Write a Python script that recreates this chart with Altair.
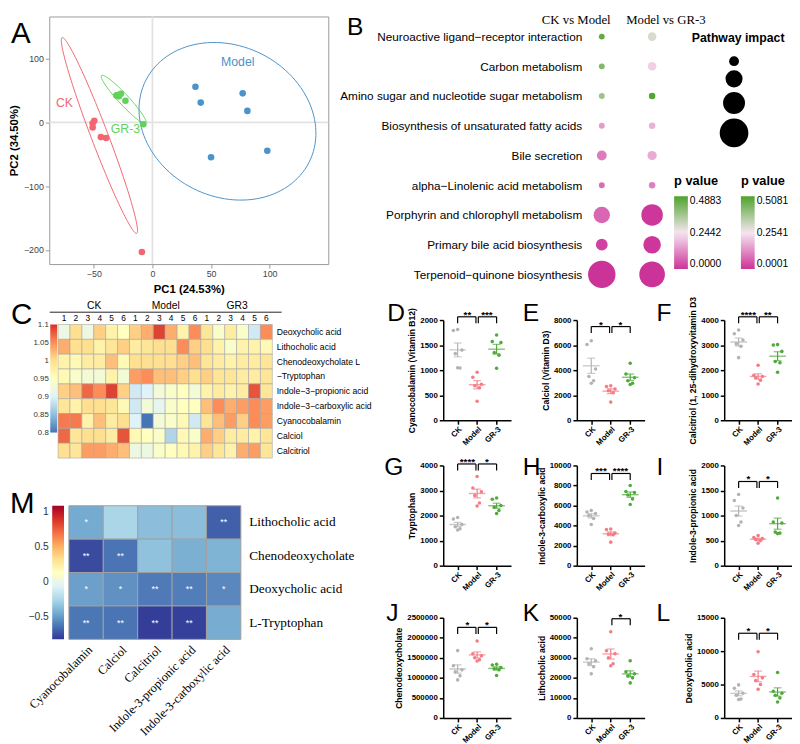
import numpy as np
import pandas as pd
import altair as alt

SANS = 'Liberation Sans'
SERIF = 'Liberation Serif'
IND = dict(color='independent', size='independent')

def letter(txt, x, y, size=25):
    return alt.Chart(pd.DataFrame({'t': [txt]})).mark_text(
        fontSize=size, align='left', baseline='alphabetic', color='black', font=SANS
    ).encode(x=alt.value(x), y=alt.value(y), text='t:N')

def colorbar(lo, hi, colors, ticks, px_lo, px_hi, x0, x1, fsize):
    stops = [alt.GradientStop(color=c, offset=i / (len(colors) - 1)) for i, c in enumerate(colors)]
    grad = alt.LinearGradient(gradient='linear', stops=stops, x1=0, x2=0, y1=1, y2=0)
    return alt.Chart(pd.DataFrame({'lo': [lo], 'hi': [hi]})).mark_rect(fill=grad).encode(
        x=alt.value(x0), x2=alt.value(x1),
        y=alt.Y('hi:Q', scale=alt.Scale(domain=[lo, hi], range=[px_lo, px_hi], nice=False, zero=False),
                axis=alt.Axis(orient='left', values=ticks, format='~g', ticks=False, domain=False, grid=False,
                              labelFontSize=fsize, labelColor='#333', labelPadding=1, title=None,
                              labelOverlap=False)),
        y2='lo:Q')

# ---------------- A : PCA ----------------
pca_group = ['CK'] * 6 + ['GR-3'] * 6 + ['Model'] * 6
pca_pc1 = [-49.6, -51.0, -51.0, -44.0, -39.5, -9.0,
           -30.8, -30.0, -28.6, -26.9, -23.0, -7.8,
           36.7, 41.2, 77.0, 81.0, 50.0, 98.0]
pca_pc2 = [2.5, -1.5, -8.0, -23.0, -24.5, -203.0,
           42.0, 43.0, 41.0, 45.0, 34.0, -3.0,
           56.0, 31.0, 45.5, 18.0, -54.5, -44.5]
ell_names = ['CK', 'GR-3', 'Model']
ell_cx = [-45.2, -24.5, 64.0]
ell_cy = [-20.5, 36.0, 1.75]
ell_ax = [31.8, 18.9, 67.9]
ell_ay = [-153.5, -37.5, -70.0]
ell_bx = [6.8, 3.3, -32.9]
ell_by = [4.5, 5.3, -101.75]
lab_names = ['CK', 'GR-3', 'Model']
lab_x = [-75.0, -23.0, 72.8]
lab_y = [31.0, -10.5, 94.5]

pca_df = pd.DataFrame({'PC1': pca_pc1, 'PC2': pca_pc2, 'Group': pca_group})
t = np.linspace(0, 2 * np.pi, 121)
ell_rows = []
for k, g in enumerate(ell_names):
    for j, tt in enumerate(t):
        ell_rows.append({'Group': g, 'ord': j,
                         'PC1': ell_cx[k] + ell_ax[k] * np.cos(tt) + ell_bx[k] * np.sin(tt),
                         'PC2': ell_cy[k] + ell_ay[k] * np.cos(tt) + ell_by[k] * np.sin(tt)})
ell_df = pd.DataFrame(ell_rows)
lab_df = pd.DataFrame({'PC1': lab_x, 'PC2': lab_y, 'Group': lab_names})

a_col = alt.Scale(domain=['CK', 'GR-3', 'Model'], range=['#F3666F', '#62D25A', '#4A93CB'])
a_xs = alt.Scale(domain=[-88, 150], nice=False, zero=False)
a_ys = alt.Scale(domain=[-222, 166], nice=False, zero=False)
a_xax = alt.Axis(values=[-50, 0, 50, 100], grid=False, domain=False, tickColor='#999', tickSize=4,
                 labelColor='#444', labelFontSize=9, title='PC1 (24.53%)', titleFontSize=11.5,
                 titleFontWeight='bold', titlePadding=5)
a_yax = alt.Axis(values=[-200, -100, 0, 100], grid=False, domain=False, tickColor='#999', tickSize=4,
                 labelColor='#444', labelFontSize=9, title='PC2 (34.50%)', titleFontSize=11.5,
                 titleFontWeight='bold', titlePadding=4)
AX = lambda: alt.X('PC1:Q', scale=a_xs, axis=a_xax)
AY = lambda: alt.Y('PC2:Q', scale=a_ys, axis=a_yax)
AC = lambda: alt.Color('Group:N', scale=a_col, legend=None)

a_zx = alt.Chart(pd.DataFrame({'PC1': [0]})).mark_rule(color='#E2E2E2', strokeWidth=1.8).encode(x=AX())
a_zy = alt.Chart(pd.DataFrame({'PC2': [0]})).mark_rule(color='#E2E2E2', strokeWidth=1.8).encode(y=AY())
a_ell = alt.Chart(ell_df).mark_line(strokeWidth=1).encode(x=AX(), y=AY(), color=AC(), detail='Group:N', order='ord:Q')
a_pts = alt.Chart(pca_df).mark_circle(size=45, opacity=1).encode(x=AX(), y=AY(), color=AC())
a_lab = alt.Chart(lab_df).mark_text(fontSize=12.5, font=SANS).encode(x=AX(), y=AY(), color=AC(), text='Group:N')
A = alt.layer(a_zx, a_zy, a_ell, a_pts, a_lab, letter('A', -39, 27, 30)).properties(
    width=284, height=252, view=alt.ViewBackground(stroke='#9A9A9A', strokeWidth=1))

# ---------------- B : pathway bubbles ----------------
b_pathways = ['Neuroactive ligand\u2212receptor interaction', 'Carbon metabolism',
              'Amino sugar and nucleotide sugar metabolism', 'Biosynthesis of unsaturated fatty acids',
              'Bile secretion', 'alpha\u2212Linolenic acid metabolism', 'Porphyrin and chlorophyll metabolism',
              'Primary bile acid biosynthesis', 'Terpenoid\u2212quinone biosynthesis']
b_comps = ['CK vs Model', 'Model vs GR-3']
b_ck_p = [0.46, 0.41, 0.37, 0.14, 0.10, 0.08, 0.07, 0.02, 0.0]
b_ck_impact = [0.036, 0.036, 0.036, 0.036, 0.10, 0.036, 0.28, 0.144, 0.78]
b_gr_p = [0.30, 0.22, 0.50, 0.18, 0.17, 0.11, 0.004, 0.005, 0.0001]
b_gr_impact = [0.076, 0.076, 0.044, 0.044, 0.088, 0.044, 0.48, 0.32, 0.68]
b_rows = []
for i, pw in enumerate(b_pathways):
    b_rows.append({'pathway': pw, 'comp': b_comps[0], 'p': b_ck_p[i], 'impact': b_ck_impact[i]})
    b_rows.append({'pathway': pw, 'comp': b_comps[1], 'p': b_gr_p[i], 'impact': b_gr_impact[i]})
b_df = pd.DataFrame(b_rows)

MAG, MID, GRN = '#CC3399', '#F6E6F0', '#4DA32C'
b_yax = alt.Axis(ticks=False, domain=False, labelFontSize=12, labelPadding=4, title=None, labelLimit=400,
                 labelColor='black')
BX = lambda: alt.X('comp:N', sort=b_comps, scale=alt.Scale(type='point', padding=0.32), axis=None)
BY = lambda: alt.Y('pathway:N', sort=b_pathways, scale=alt.Scale(type='point', padding=0.677), axis=b_yax)
size_leg = alt.Legend(title='Pathway impact', orient='none', legendX=108, legendY=16, values=[0.1, 0.3, 0.5, 0.85],
                      labelExpr="''", symbolFillColor='black', symbolStrokeColor='black', symbolOpacity=1,
                      symbolStrokeWidth=0, titleFontSize=12.5, titleFontWeight='bold', symbolOffset=28,
                      rowPadding=4, titlePadding=12)
BS = lambda: alt.Size('impact:Q', scale=alt.Scale(domain=[0, 1], range=[0, 1000]), legend=size_leg)

def p_leg(x, vals):
    return alt.Legend(title='p value', orient='none', legendX=x, legendY=162, values=vals, format='.4f',
                      gradientLength=74, gradientThickness=14, titleFontSize=13, titleFontWeight='bold',
                      labelFontSize=10.5, titlePadding=8, direction='vertical', labelColor='black')

b1 = alt.Chart(b_df).transform_filter(alt.datum.comp == b_comps[0]).mark_circle(opacity=1).encode(
    x=BX(), y=BY(), size=BS(),
    color=alt.Color('p:Q', scale=alt.Scale(domain=[0, 0.2442, 0.4883], range=[MAG, MID, GRN], interpolate='rgb'),
                    legend=p_leg(90, [0, 0.2442, 0.4883])))
b2 = alt.Chart(b_df).transform_filter(alt.datum.comp == b_comps[1]).mark_circle(opacity=1).encode(
    x=BX(), y=BY(), size=BS(),
    color=alt.Color('p:Q', scale=alt.Scale(domain=[0.0001, 0.2541, 0.5081], range=[MAG, MID, GRN], interpolate='rgb'),
                    legend=p_leg(158, [0.0001, 0.2541, 0.5081])))
hdr1 = alt.Chart(pd.DataFrame({'comp': [b_comps[0]]})).mark_text(
    font=SERIF, fontSize=13, dx=-26, baseline='middle', color='black').encode(x=BX(), y=alt.value(4), text='comp:N')
hdr2 = alt.Chart(pd.DataFrame({'comp': [b_comps[1]]})).mark_text(
    font=SERIF, fontSize=13, dx=14, baseline='middle', color='black').encode(x=BX(), y=alt.value(4), text='comp:N')
B = alt.layer(b1, b2, hdr1, hdr2, letter('B', -243, 19, 25)).resolve_scale(
    color='independent').properties(width=84, height=283)

# ---------------- C : heatmap ----------------
heat_groups = ['CK', 'Model', 'GR3']
heat_rows = ['Deoxycholic acid', 'Lithocholic acid', 'Chenodeoxycholate L', '\u2212Tryptophan',
             'Indole\u22123\u2212propionic acid', 'Indole\u22123\u2212carboxylic acid', 'Cyanocobalamin',
             'Calciol', 'Calcitriol']
heat_vals = [
    [0.92, 1.00, 0.92, 1.01, 0.97, 0.95, 1.01, 1.03, 1.09, 1.03, 0.97, 1.05, 0.99, 0.94, 0.98, 0.94, 0.89, 1.05],
    [1.03, 1.00, 1.00, 0.97, 0.99, 1.01, 0.98, 0.99, 1.00, 1.00, 1.05, 1.01, 1.00, 0.97, 0.94, 0.97, 0.97, 0.96],
    [0.97, 0.96, 0.98, 0.98, 1.02, 0.96, 1.00, 1.00, 1.00, 1.00, 1.01, 1.02, 0.99, 0.98, 0.97, 0.98, 0.98, 0.99],
    [0.96, 0.94, 0.93, 0.93, 0.97, 0.93, 1.04, 1.05, 1.02, 1.02, 1.01, 1.00, 1.01, 0.99, 0.99, 0.98, 0.98, 0.99],
    [1.01, 1.02, 1.07, 1.05, 1.09, 1.01, 0.89, 0.90, 0.93, 0.94, 0.95, 0.93, 0.97, 0.98, 0.97, 0.98, 1.08, 0.99],
    [0.99, 0.97, 1.00, 1.00, 0.99, 0.96, 0.89, 0.93, 0.91, 0.94, 0.95, 0.95, 1.02, 1.05, 1.03, 1.04, 1.05, 1.04],
    [1.06, 1.06, 0.97, 1.02, 0.98, 1.00, 0.90, 0.80, 0.93, 0.94, 0.96, 0.89, 0.99, 1.02, 1.04, 1.01, 1.05, 1.04],
    [1.07, 0.99, 1.00, 1.00, 0.98, 1.08, 0.96, 0.95, 0.94, 0.87, 0.96, 0.94, 1.03, 1.01, 0.98, 0.98, 0.97, 0.99],
    [1.00, 0.99, 1.04, 1.04, 1.03, 1.02, 0.92, 0.92, 0.94, 0.95, 0.96, 0.97, 1.01, 0.99, 0.97, 1.03, 1.04, 0.99],
]
heat_ticks = [0.8, 0.85, 0.9, 0.95, 1.0, 1.05, 1.1]
heat_colors = ['#4575B4', '#91BFDB', '#E0F3F8', '#FFFFBF', '#FEE090', '#FC8D59', '#D73027']
samples = [f'{g}-{i}' for g in heat_groups for i in range(1, 7)]
h_rows = []
for r, name in enumerate(heat_rows):
    for c, s in enumerate(samples):
        h_rows.append({'metab': name, 'sample': s, 'hval': heat_vals[r][c]})
heat_df = pd.DataFrame(h_rows)

heat = alt.Chart(heat_df).mark_rect(stroke='#A6A6A6', strokeWidth=0.6).encode(
    x=alt.X('sample:N', sort=samples, scale=alt.Scale(paddingInner=0, paddingOuter=0.74),
            axis=alt.Axis(orient='top', labelExpr="split(datum.value, '-')[1]", labelAngle=0, ticks=False,
                          domain=False, labelPadding=2, labelFontSize=8.5, title=None, labelColor='black',
                          offset={'expr': '-4.5'})),
    y=alt.Y('metab:N', sort=heat_rows, scale=alt.Scale(paddingInner=0, paddingOuter=0.3),
            axis=alt.Axis(orient='right', ticks=False, domain=False, labelFontSize=8.8, title=None,
                          labelPadding=4, labelColor='black', labelLimit=300, offset={'expr': '-9'})),
    color=alt.Color('hval:Q', scale=alt.Scale(domain=heat_ticks, range=heat_colors, interpolate='rgb'),
                    legend=None))
grp_hdr = alt.Chart(pd.DataFrame({'grpname': heat_groups})).mark_point(opacity=0).encode(
    x=alt.X('grpname:N', sort=heat_groups, scale=alt.Scale(type='point', padding=0.623),
            axis=alt.Axis(orient='top', offset=8.5, ticks=False, domainColor='#222', labelAngle=0,
                          labelFontSize=10.5, labelPadding=1, title=None, labelColor='black')))
cbar_c = colorbar(heat_ticks[0], heat_ticks[-1], heat_colors, heat_ticks, 114.5, 4.5, 1, 8, 8)
C = alt.layer(heat, grp_hdr, cbar_c, letter('C', -39, 4, 30)).resolve_scale(
    x='independent', y='independent').properties(width=236, height=145)

# ---------------- M : correlation heatmap ----------------
m_rows = ['Lithocholic acid', 'Chenodeoxycholate', 'Deoxycholic acid', 'L-Tryptophan']
m_cols = ['Cyanocobalamin', 'Calciol', 'Calcitriol', 'Indole-3-propionic acid', 'Indole-3-carboxylic acid']
m_r = [[-0.44, -0.25, -0.36, -0.36, -0.69],
       [-0.76, -0.63, -0.34, -0.42, -0.40],
       [-0.48, -0.53, -0.61, -0.60, -0.56],
       [-0.62, -0.63, -0.80, -0.79, -0.43]]
m_sig = [['*', '', '', '', '**'],
         ['**', '**', '', '', ''],
         ['*', '*', '**', '**', '*'],
         ['**', '**', '**', '**', '']]
m_lim = [-0.82, 1.08]
m_ticks = [-0.5, 0, 0.5, 1]
m_colors = ['#313695', '#4575B4', '#74ADD1', '#ABD9E9', '#E0F3F8', '#FFFFBF',
            '#FEE090', '#FDAE61', '#F46D43', '#D73027', '#A50026']
mr = []
for i, rn in enumerate(m_rows):
    for j, cn in enumerate(m_cols):
        mr.append({'row': rn, 'col': cn, 'r': m_r[i][j], 'sig': m_sig[i][j]})
m_df = pd.DataFrame(mr)
MXax = alt.Axis(orient='bottom', labelAngle=-45, labelAlign='right', labelFont=SERIF, labelFontSize=12.5,
                ticks=False, domain=False, title=None, labelPadding=4, labelColor='black')
MYax = alt.Axis(orient='right', labelFont=SERIF, labelFontSize=13.5, ticks=False, domain=False, title=None,
                labelPadding=8, labelColor='black', offset={'expr': '-20'})
MX = lambda: alt.X('col:N', sort=m_cols, scale=alt.Scale(paddingInner=0, paddingOuter=0.571), axis=MXax)
MY = lambda: alt.Y('row:N', sort=m_rows, scale=alt.Scale(paddingInner=0, paddingOuter=0), axis=MYax)
m_heat = alt.Chart(m_df).mark_rect(stroke='#A0A0A0', strokeWidth=1).encode(
    x=MX(), y=MY(),
    color=alt.Color('r:Q', scale=alt.Scale(scheme='redyellowblue', reverse=True, domain=m_lim), legend=None))
m_txt = alt.Chart(m_df).mark_text(color='white', fontSize=9, baseline='middle').encode(x=MX(), y=MY(), text='sig:N')
cbar_m = colorbar(m_lim[0], m_lim[1], m_colors, m_ticks, 136, 0, 3, 15, 10.5)
M = alt.layer(alt.layer(m_heat, m_txt), cbar_m, letter('M', -40, 7, 30)).resolve_scale(
    y='independent').properties(width=215, height=136)

# ---------------- D-L : dot plots ----------------
DOT_COL = alt.Scale(domain=['CK', 'Model', 'GR-3'], range=['#B3B3B3', '#F47C86', '#4FAA3B'])
JIT = [0.0, -0.22, 0.22, -0.12, 0.12, 0.0]

def dot_panel(let, title, ck, md, gr, ymax, yticks, br_i1, br_i2, br_lvl, br_star, lx, ly):
    recs = []
    for g, i, vals in (('CK', 1, ck), ('Model', 2, md), ('GR-3', 3, gr)):
        for k, v in enumerate(vals):
            recs.append({'grp': g, 'idx': i, 'val': v, 'jit': JIT[k]})
    df = pd.DataFrame(recs)
    xs = alt.Scale(domain=[0.26, 3.74], nice=False, zero=False)
    ys = alt.Scale(domain=[0, ymax], nice=False, zero=True)
    xax = alt.Axis(values=[1, 2, 3], labelExpr="datum.value == 1 ? 'CK' : (datum.value == 2 ? 'Model' : 'GR-3')",
                   labelAngle=-45, labelAlign='right', labelBaseline='top', labelFontWeight='bold', labelFontSize=8,
                   title=None, grid=False, domainColor='black', domainWidth=1.5, tickColor='black', tickWidth=1.5,
                   tickSize=4, labelPadding=1, labelColor='black', labelOverlap=False)
    yax = alt.Axis(values=yticks, format='d', labelFontWeight='bold', labelFontSize=8, grid=False,
                   domainColor='black', domainWidth=1.5, tickColor='black', tickWidth=1.5, tickSize=4,
                   labelPadding=2, labelColor='black', title=title, titleFontWeight='bold', titleFontSize=8.7,
                   titlePadding=3, titleColor='black', labelOverlap=False)
    X = lambda f: alt.X(f + ':Q', scale=xs, axis=xax)
    Y = lambda f: alt.Y(f + ':Q', scale=ys, axis=yax)
    Cc = alt.Color('grp:N', scale=DOT_COL, legend=None)
    base = alt.Chart(df)
    pts = base.transform_calculate(xp='datum.idx + datum.jit').mark_circle(size=13, opacity=1).encode(
        x=X('xp'), y=Y('val'), color=Cc)
    stats = base.transform_aggregate(m='mean(val)', sd='stdev(val)', n='count()', groupby=['grp', 'idx']) \
        .transform_calculate(lo='datum.m - datum.sd / sqrt(datum.n)', hi='datum.m + datum.sd / sqrt(datum.n)')
    mean_t = stats.mark_tick(orient='horizontal', size=17, thickness=1.4).encode(x=X('idx'), y=Y('m'), color=Cc)
    err = stats.mark_rule(strokeWidth=1.2).encode(x=X('idx'), y=Y('lo'), y2='hi:Q', color=Cc)
    caps = stats.transform_fold(['lo', 'hi'], as_=['which', 'cv']).mark_tick(
        orient='horizontal', size=8, thickness=1.2).encode(x=X('idx'), y=Y('cv'), color=Cc)
    bdf = pd.DataFrame({'i1': br_i1, 'i2': br_i2, 'level': br_lvl, 'stars': br_star})
    bb = alt.Chart(bdf).transform_calculate(
        xa='datum.i1 + (datum.i1 == 2 ? 0.06 : 0)', xb='datum.i2 - (datum.i2 == 2 ? 0.06 : 0)',
        lo=f'datum.level - {ymax * 0.065}', xm='(datum.i1 + datum.i2) / 2')
    hr = bb.mark_rule(color='black', strokeWidth=1.2).encode(x=X('xa'), x2='xb:Q', y=Y('level'))
    legs = bb.transform_fold(['xa', 'xb'], as_=['side', 'lx']).mark_rule(color='black', strokeWidth=1.2).encode(
        x=X('lx'), y=Y('level'), y2='lo:Q')
    st = bb.mark_text(fontWeight='bold', fontSize=10, baseline='bottom', dy=3, color='black').encode(
        x=X('xm'), y=Y('level'), text='stars:N')
    return alt.layer(pts, err, caps, mean_t, hr, legs, st, letter(let, lx, ly, 25)).properties(width=69, height=102)

D = dot_panel('D', 'Cyanocobalamin (Vitamin B12)', [1810, 1790, 1400, 1330, 1045, 1050],
              [960, 860, 720, 690, 650, 380], [1700, 1570, 1550, 1350, 1300, 1040],
              2000, [0, 500, 1000, 1500, 2000], [1, 2], [2, 3], [2065, 2065], ['**', '***'], -57, 1)
E = dot_panel('E', 'Calciol (Vitamin D3)', [6350, 6050, 4100, 3500, 3150, 2950],
              [2750, 2700, 2500, 2350, 2200, 1450], [4550, 3700, 3400, 3150, 2950, 2850],
              8000, [0, 2000, 4000, 6000, 8000], [1, 2], [2, 3], [7480, 7480], ['*', '*'], -55, 1)
F = dot_panel('F', 'Calcitriol (1, 25-dihydroxyvitamin D3', [3600, 3450, 3200, 3050, 2950, 2500],
              [2200, 1800, 1750, 1700, 1600, 1450], [3020, 3000, 2750, 2350, 2300, 1920],
              4000, [0, 1000, 2000, 3000, 4000], [1, 2], [2, 3], [4130, 4130], ['****', '**'], -69, 1)
G = dot_panel('G', 'Tryptophan', [1920, 1860, 1640, 1550, 1470, 1420],
              [3560, 3100, 2950, 2800, 2500, 2380], [2700, 2650, 2400, 2330, 2200, 2080],
              4000, [0, 1000, 2000, 3000, 4000], [1, 2], [2, 3], [4060, 4060], ['****', '*'], -60, 10)
H = dot_panel('H', 'Indole-3-carboxylic acid', [5500, 5350, 5200, 5000, 4700, 4100],
              [3650, 3600, 3250, 3150, 3100, 2350], [8000, 7400, 7300, 7050, 6650, 6100],
              10000, [0, 2000, 4000, 6000, 8000, 10000], [1, 2], [2, 3], [9200, 9200], ['***', '****'], -55, 10)
I = dot_panel('I', 'Indole-3-propionic acid', [1420, 1300, 1150, 1000, 870, 800],
              [600, 560, 540, 520, 500, 450], [1350, 870, 850, 670, 650, 640],
              2000, [0, 500, 1000, 1500, 2000], [1, 2], [2, 3], [1680, 1680], ['*', '*'], -69, 10)
J = dot_panel('J', 'Chenodeoxycholate', [1680000, 1300000, 1200000, 1150000, 1050000, 950000],
              [1920000, 1600000, 1550000, 1500000, 1450000, 1420000],
              [1340000, 1320000, 1260000, 1230000, 1200000, 1060000],
              2500000, [0, 500000, 1000000, 1500000, 2000000, 2500000], [1, 2], [2, 3],
              [2260000, 2260000], ['*', '*'], -58, 3)
K = dot_panel('K', 'Lithocholic acid', [34500, 29500, 28500, 27000, 25500, 22000],
              [43000, 33500, 32000, 30000, 27000, 26000], [28500, 23000, 22000, 21000, 20000, 17500],
              50000, [0, 10000, 20000, 30000, 40000, 50000], [2], [3], [49500], ['*'], -55, 3)
L = dot_panel('L', 'Deoxycholic acid', [4950, 4450, 3700, 3400, 2850, 2750],
              [9900, 6500, 6000, 5600, 5000, 4300], [6800, 4000, 3700, 3400, 3000, 2400],
              15000, [0, 5000, 10000, 15000], [1, 2], [2, 3], [12680, 12680], ['*', '*'], -69, 3)

# ---------------- layout ----------------
top = alt.hconcat(A, B, spacing=9).resolve_scale(**IND)
left = alt.vconcat(C, M, spacing=27).resolve_scale(**IND)
right = alt.vconcat(
    alt.hconcat(D, E, F, spacing=12).resolve_scale(**IND),
    alt.hconcat(G, H, I, spacing=12).resolve_scale(**IND),
    alt.hconcat(J, K, L, spacing=12).resolve_scale(**IND),
    spacing=9).resolve_scale(**IND)
bottom = alt.hconcat(left, right, spacing=13).resolve_scale(**IND)
chart = alt.vconcat(top, bottom, spacing=0).resolve_scale(**IND).properties(
    padding=0, background='white'
).configure_view(strokeWidth=0).configure_axis(labelFont=SANS, titleFont=SANS).configure_legend(
    labelFont=SANS, titleFont=SANS).configure_text(font=SANS)

chart.save('out.html', embed_options={'renderer': 'svg', 'actions': False})
